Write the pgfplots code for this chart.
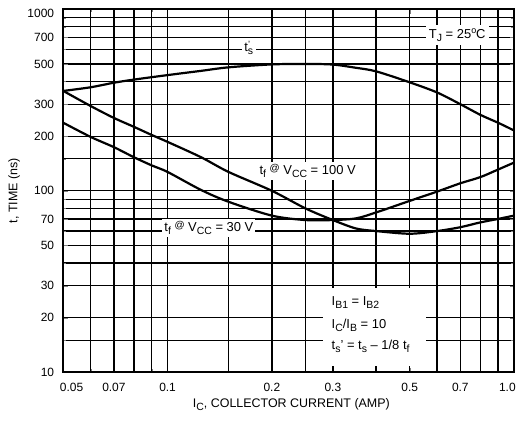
\documentclass[border=0pt]{standalone}
\usepackage{fontspec}
\setmainfont{Liberation Sans}
\usepackage{pgfplots}
\pgfplotsset{compat=1.18}
\newcommand\lo[1]{\raisebox{-0.45ex}{\fontsize{10.5}{10.5}\selectfont #1}}
\tikzset{lbl/.style={fill=white, font=\fontsize{13}{15}\selectfont},
  crv/.style={black, line width=2.2bp, smooth, tension=0.5, mark=none}}
\begin{document}
\begin{tikzpicture}
\begin{axis}[
 at={(0,0)}, anchor=south west,
 scale only axis, width=450.7bp, height=363bp,
 xmode=log, ymode=log,
 xmin=0.05, xmax=1, ymin=10, ymax=1000,
 xtick={0.05,0.07,0.1,0.2,0.3,0.5,0.7,1},
 xticklabels={\hphantom{0.0}0.05,0.07,0.1,0.2,0.3,0.5,0.7,1.0\hphantom{00}},
 minor xtick={0.06,0.08,0.09,0.15,0.25,0.4,0.6,0.8,0.9},
 ytick={10,20,30,50,70,100,200,300,500,700,1000},
 yticklabels={10,20,30,50,70,100,200,300,500,700,\vphantom{0}\smash{\raisebox{-4bp}{1000}}},
 minor ytick={15,40,60,80,90,150,400,600,800,900},
 grid=both,
 grid style={black, line width=1.2bp},
 major grid style={black, line width=1.2bp},
 minor grid style={black, line width=1.2bp},
 axis line style={black, line width=1.6bp},
 tick label style={font=\fontsize{12}{12}\selectfont},
 xticklabel style={anchor=north, inner xsep=0pt, inner ysep=10.5bp},
 yticklabel style={anchor=east, inner xsep=9bp, inner ysep=0pt},
 xlabel={I\lo{C}, COLLECTOR CURRENT (AMP)},
 ylabel={t, TIME (ns)},
 label style={font=\fontsize{12.5}{12.5}\selectfont},
 xlabel style={at={(axis description cs:0.506,-0.09)}, anchor=center},
 ylabel style={at={(axis description cs:-0.109,0.5)}, anchor=center},
]
\pgfplotsinvokeforeach{0.06,0.07,0.08,0.09,0.1,0.15,0.2,0.25,0.3,0.4,0.5,0.6,0.7,0.8,0.9}{
  \draw[black, line width=1.4bp] (axis cs:#1,10) -- (axis cs:#1,1000);
}
% t's
\addplot[crv] coordinates {(0.05,355) (0.06,372) (0.07,394) (0.08,410) (0.1,434) (0.125,458) (0.15,479) (0.2,497) (0.25,500) (0.3,496) (0.35,476) (0.4,455) (0.5,396) (0.6,348) (0.7,300) (0.8,262) (0.9,237) (1.0,215)};
% upper-start fall time curve
\addplot[crv] coordinates {(0.05,355) (0.06,293) (0.07,252) (0.08,225) (0.09,203) (0.1,186) (0.125,153) (0.15,127) (0.2,100) (0.25,80) (0.3,69) (0.35,62) (0.4,60) (0.5,58) (0.6,60) (0.7,63) (0.8,67) (0.9,70) (1.0,73)};
% lower-start fall time curve
\addplot[crv] coordinates {(0.05,237) (0.06,198) (0.07,174) (0.08,153) (0.09,138) (0.1,127) (0.125,101) (0.15,87) (0.2,73) (0.25,69) (0.3,69) (0.35,70.5) (0.4,76) (0.5,88) (0.6,99) (0.7,110) (0.8,119) (0.9,131) (1.0,143)};
\node[lbl, inner sep=2.5bp] at (axis cs:0.1716,612) {t\textsuperscript{'}\kern-0.2em\lo{s}};
\node[lbl, inner xsep=3bp, inner ysep=3bp] at (axis cs:0.686,722) {T\lo{J} = 25\raisebox{0.75ex}{\fontsize{9}{9}\selectfont o}C};
\node[lbl, inner xsep=2bp, inner ysep=3bp] at (axis cs:0.2537,128.5) {t\lo{f} \raisebox{0.35ex}{\fontsize{10}{10}\selectfont @} V\lo{CC} = 100 V};
\node[lbl, inner xsep=2bp, inner ysep=3bp] at (axis cs:0.1316,62.4) {t\lo{f} \raisebox{0.35ex}{\fontsize{10}{10}\selectfont @} V\lo{CC} = 30 V};
\fill[white] (axis cs:0.2802,29.2) rectangle (axis cs:0.558,10.8);
\node[font=\fontsize{13}{15}\selectfont, anchor=west, inner sep=0pt] at (axis cs:0.2974,24.1) {I\lo{B1} = I\lo{B2}};
\node[font=\fontsize{13}{15}\selectfont, anchor=west, inner sep=0pt] at (axis cs:0.2974,18.2) {I\lo{C}/I\lo{B} = 10};
\node[font=\fontsize{13}{15}\selectfont, anchor=west, inner sep=0pt] at (axis cs:0.2974,13.96) {t\lo{s}\textquoteright{} = t\lo{s} -- 1/8 t\lo{f}};
\end{axis}
\pgfresetboundingbox
\path (-63.3bp,-52.7bp) rectangle (452.7bp,372.3bp);
\end{tikzpicture}
\end{document}
